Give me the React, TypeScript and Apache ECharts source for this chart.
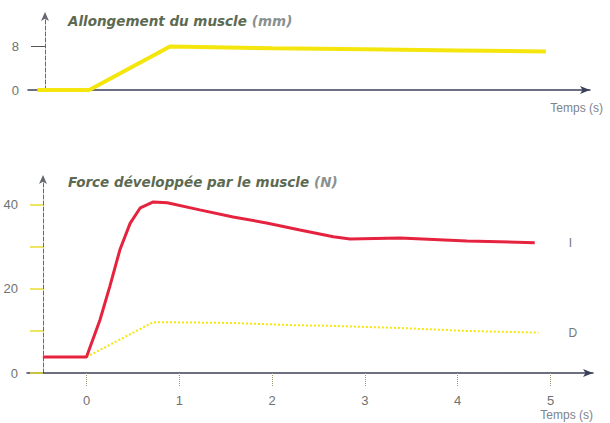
import React, { useEffect, useRef } from "react";
import * as echarts from "echarts";

// Top chart: muscle lengthening (mm)
const lengthTime = [-0.53, 0.03, 0.9, 2, 3, 4, 4.95];
const lengthValues = [0, 0, 7.9, 7.6, 7.4, 7.2, 7.0];
const lengthTicks = [0, 8];

// Bottom chart: force developed by the muscle (N)
const timeI = [-0.47, 0, 0.145, 0.25, 0.36, 0.47, 0.58, 0.72, 0.87, 1.22, 1.58, 1.94, 2.3, 2.66, 2.84, 3.38, 4.1, 4.83];
const forceI = [3.8, 3.8, 12.6, 20.5, 29.3, 35.6, 39.3, 40.7, 40.5, 38.8, 37.1, 35.7, 34, 32.4, 31.9, 32.1, 31.4, 31];
const timeD = [0, 0.72, 1.58, 2.19, 2.66, 3.38, 4.1, 4.87];
const forceD = [3.8, 12.1, 11.9, 11.4, 11.2, 10.7, 10, 9.6];
const forceTickValues = [0, 10, 20, 30, 40];
const forceLabelValues = [0, 20, 40];
const timeTicks = [0, 1, 2, 3, 4, 5];

const FONT = "Liberation Sans, Arial, sans-serif";
const TITLE_FONT = "DejaVu Sans, Verdana, sans-serif";
const TITLE_COLOR = "#5c6a52";
const LABEL_COLOR = "#6e7272";
const AXIS_COLOR = "#3b4058";
const YELLOW = "#f4e60c";
const RED = "#e6233f";

export default function App() {
  const ref = useRef<HTMLDivElement>(null);
  useEffect(() => {
    document.body.style.margin = "0";
    if (!ref.current) return;
    const chart = echarts.init(ref.current, null, { renderer: "svg" });
    const zip = (xs: number[], ys: number[]) => xs.map((x, i) => [x, ys[i]]);
    const titleRich = {
      b: { fontFamily: TITLE_FONT, fontSize: 13.5, fontWeight: "bold", fontStyle: "italic", color: TITLE_COLOR },
      n: { fontFamily: TITLE_FONT, fontSize: 13.5, fontStyle: "italic", color: "#8a9090" },
    };
    chart.setOption({
      animation: false,
      backgroundColor: "#ffffff",
      title: [
        { text: "{b|Allongement du muscle} {n|(mm)}", left: 63, top: 7, textStyle: { rich: titleRich } },
        { text: "{b|Force développée par le muscle} {n|(N)}", left: 63, top: 168, textStyle: { rich: titleRich } },
      ],
      grid: [
        { left: 28, top: 12, width: 562, height: 78 },
        { left: 27, top: 175, width: 566, height: 198 },
      ],
      xAxis: [
        {
          type: "value", gridIndex: 0, min: -0.63, max: 5.426,
          axisLine: { onZero: false, lineStyle: { color: AXIS_COLOR, width: 1.5 }, symbol: ["none", "arrow"], symbolSize: [6, 10] },
          axisTick: { show: false }, axisLabel: { show: false }, splitLine: { show: false },
          name: "Temps (s)", nameLocation: "end", nameGap: 13,
          nameTextStyle: { fontFamily: FONT, fontSize: 12, color: "#7d848c", align: "right", verticalAlign: "top", padding: [12, 0, 0, 0] },
        },
        {
          type: "value", gridIndex: 1, min: -0.641, max: 5.458,
          axisLine: { onZero: false, lineStyle: { color: AXIS_COLOR, width: 1.5 }, symbol: ["none", "arrow"], symbolSize: [6, 10] },
          axisTick: { show: true, customValues: timeTicks, length: 14, lineStyle: { color: "#9a9a70", type: "dotted" } },
          axisLabel: { customValues: timeTicks, margin: 21, fontFamily: FONT, fontSize: 13, color: LABEL_COLOR },
          splitLine: { show: false },
          name: "Temps (s)", nameLocation: "end", nameGap: 0,
          nameTextStyle: { fontFamily: FONT, fontSize: 12, color: "#7d848c", align: "right", verticalAlign: "top", padding: [36, 0, 0, 0] },
        },
      ],
      yAxis: [
        {
          type: "value", gridIndex: 0, min: 0, max: 14.2, offset: -17,
          axisLine: { onZero: false, lineStyle: { color: "#666a70", width: 1, type: "dashed" }, symbol: ["none", "arrow"], symbolSize: [6, 9] },
          axisTick: { show: true, customValues: [8], length: 14, lineStyle: { color: "#555", width: 1 } },
          axisLabel: { customValues: lengthTicks, margin: 26, fontFamily: FONT, fontSize: 13, color: LABEL_COLOR },
          splitLine: { show: false },
        },
        {
          type: "value", gridIndex: 1, min: 0, max: 47.1, offset: -16,
          axisLine: { onZero: false, lineStyle: { color: "#666a70", width: 1, type: "dashed" }, symbol: ["none", "arrow"], symbolSize: [6, 9] },
          axisTick: { show: true, customValues: forceTickValues, length: 13, lineStyle: { color: "#e8dc30", width: 1.5 } },
          axisLabel: { customValues: forceLabelValues, margin: 25, fontFamily: FONT, fontSize: 13, color: LABEL_COLOR },
          splitLine: { show: false },
        },
      ],
      series: [
        {
          type: "line", xAxisIndex: 0, yAxisIndex: 0, data: zip(lengthTime, lengthValues),
          symbol: "none", lineStyle: { color: YELLOW, width: 4 },
        },
        {
          type: "line", xAxisIndex: 1, yAxisIndex: 1, data: zip(timeD, forceD),
          symbol: "none", lineStyle: { color: YELLOW, width: 2, type: "dotted" },
          endLabel: { show: true, formatter: "D", distance: 30, fontFamily: FONT, fontSize: 12, color: "#777" },
        },
        {
          type: "line", xAxisIndex: 1, yAxisIndex: 1, data: zip(timeI, forceI),
          symbol: "none", lineStyle: { color: RED, width: 3 },
          endLabel: { show: true, formatter: "I", distance: 34, fontFamily: FONT, fontSize: 12, color: "#777" },
        },
      ],
    });
    return () => chart.dispose();
  }, []);
  return <div ref={ref} style={{ width: 610, height: 423 }} />;
}
